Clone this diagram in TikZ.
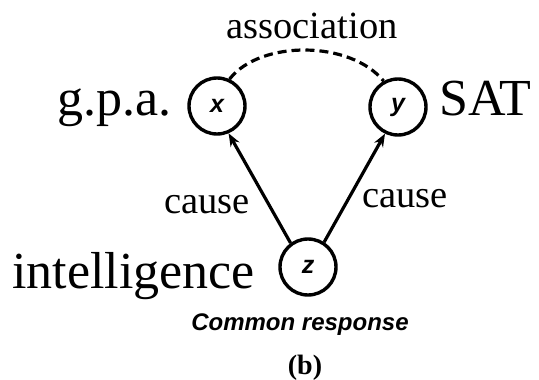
\documentclass[tikz,border=0pt]{standalone}
\usepackage{fontspec}
\setmainfont{Liberation Serif}
\newfontfamily\capfont{Liberation Sans}
\usetikzlibrary{arrows.meta}
\begin{document}
\begin{tikzpicture}[x=1pt,y=-1pt,
    var/.style={draw,circle,line width=3.4pt,minimum size=56pt,inner sep=0pt,
      font=\capfont\bfseries\itshape\fontsize{25}{30}\selectfont},
    big/.style={inner sep=0pt,font=\fontsize{52}{60}\selectfont},
    small/.style={inner sep=0pt,font=\fontsize{38.5}{44}\selectfont},
    causal/.style={line width=3.2pt,-{Stealth[length=13pt,width=10pt]}}]
  \useasboundingbox (0,0) rectangle (539,380);
  % the three variables
  \node[var] (x) at (217,106) {x};
  \node[var] (y) at (398,107) {y};
  \node[var] (z) at (308,267) {z};
  \node[big,anchor=base east] (gpa) at (172,115) {g.p.a.};
  \node[big,anchor=base west] (sat) at (439,115) {SAT};
  \node[big,anchor=base west] (intel) at (12,288) {intelligence};
  % links
  \draw[line width=3.2pt,dash pattern=on 9pt off 5pt] (x.65) .. controls (260,40) and (350,40) .. (y.119);
  \node[small,anchor=base] (assoc) at (312,38) {association};
  \draw[causal] (z.126) -- (x.-67);
  \draw[causal] (z.57) -- (y.-116);
  \node[small,anchor=base] (cl) at (207,213) {cause};
  \node[small,anchor=base] (cr) at (405,207) {cause};
  \node[anchor=base,inner sep=0pt,font=\capfont\bfseries\itshape\fontsize{24}{28}\selectfont] (common) at (300,330) {Common response};
  \node[anchor=base,inner sep=0pt,font=\bfseries\fontsize{28}{32}\selectfont] (b) at (305,374) {(b)};
\end{tikzpicture}
\end{document}
